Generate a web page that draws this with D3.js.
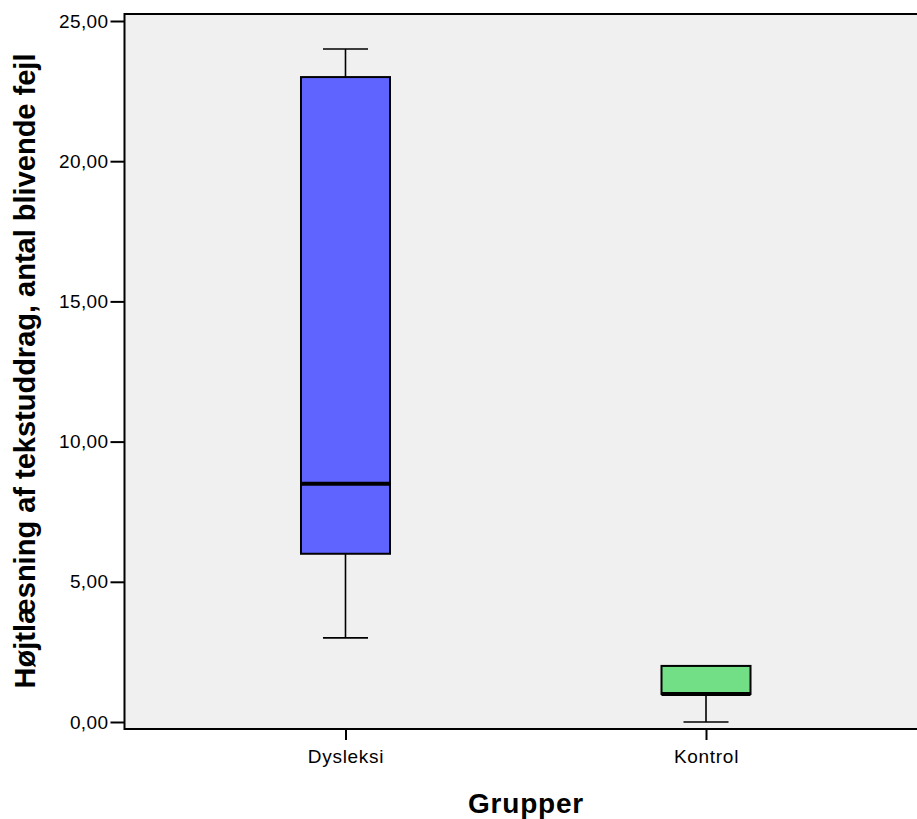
<!DOCTYPE html>
<html><head><meta charset="utf-8">
<script src="https://cdn.jsdelivr.net/npm/d3@7"></script>
<style>body{margin:0;background:#fff}svg{display:block}text{font-family:"Liberation Sans",Arial,sans-serif}</style>
</head><body><svg id="c" width="917" height="819"></svg>
<script>
const categories = ["Dysleksi", "Kontrol"];
const whiskerLow = [3, 0];
const q1 = [6, 1];
const median = [8.5, 1];
const q3 = [23, 2];
const whiskerHigh = [24, 2];
const colors = ["#5f63ff", "#72de86"];
const yTicks = [0, 5, 10, 15, 20, 25];
const yTitle = "Højtlæsning af tekstuddrag, antal blivende fejl";
const xTitle = "Grupper";

(function () {
const svg = d3.select("#c");
const pLeft = 124.5, pRight = 927, pTop = 14, pBottom = 729;
const y = d3.scaleLinear().domain([0, 25]).range([722, 21]);
const x = d3.scalePoint().domain(categories).range([pLeft, pRight]).padding(0.613);
const boxW = 89, capW = 45;

svg.append("rect").attr("x", pLeft).attr("y", pTop).attr("width", pRight - pLeft).attr("height", pBottom - pTop)
  .attr("fill", "#f0f0f0").attr("stroke", "#000").attr("stroke-width", 2);

const data = categories.map((c, i) => ({c, lo: whiskerLow[i], q1: q1[i], med: median[i], q3: q3[i], hi: whiskerHigh[i], col: colors[i]}));
const g = svg.selectAll("g.box").data(data).join("g").attr("class", "box");
g.filter(d => d.hi > d.q3).append("line").attr("x1", d => x(d.c)).attr("x2", d => x(d.c))
  .attr("y1", d => y(d.hi)).attr("y2", d => y(d.q3)).attr("stroke", "#000").attr("stroke-width", 1.6);
g.filter(d => d.hi > d.q3).append("line").attr("x1", d => x(d.c) - capW/2).attr("x2", d => x(d.c) + capW/2)
  .attr("y1", d => y(d.hi)).attr("y2", d => y(d.hi)).attr("stroke", "#000").attr("stroke-width", 1.6);
g.filter(d => d.lo < d.q1).append("line").attr("x1", d => x(d.c)).attr("x2", d => x(d.c))
  .attr("y1", d => y(d.q1)).attr("y2", d => y(d.lo)).attr("stroke", "#000").attr("stroke-width", 1.6);
g.filter(d => d.lo < d.q1).append("line").attr("x1", d => x(d.c) - capW/2).attr("x2", d => x(d.c) + capW/2)
  .attr("y1", d => y(d.lo)).attr("y2", d => y(d.lo)).attr("stroke", "#000").attr("stroke-width", 1.6);
g.append("rect").attr("x", d => x(d.c) - boxW/2).attr("width", boxW)
  .attr("y", d => y(d.q3)).attr("height", d => y(d.q1) - y(d.q3))
  .attr("fill", d => d.col).attr("stroke", "#000").attr("stroke-width", 2);
g.append("line").attr("x1", d => x(d.c) - boxW/2).attr("x2", d => x(d.c) + boxW/2)
  .attr("y1", d => y(d.med)).attr("y2", d => y(d.med)).attr("stroke", "#000").attr("stroke-width", 4);

const fmt = v => d3.format(".2f")(v).replace(".", ",");
const ya = svg.append("g").attr("transform", `translate(${pLeft},0)`)
  .call(d3.axisLeft(y).tickValues(yTicks).tickFormat(fmt).tickSize(14).tickPadding(2));
ya.select(".domain").remove();
ya.selectAll("line").attr("stroke", "#000").attr("stroke-width", 2);
ya.selectAll("text").attr("font-size", 19).attr("letter-spacing", 0.4).attr("fill", "#000")
  .attr("font-family", "Liberation Sans, Arial, sans-serif");

const xa = svg.append("g").attr("transform", `translate(0,${pBottom})`)
  .call(d3.axisBottom(x).tickSize(11).tickPadding(10));
xa.select(".domain").remove();
xa.selectAll("line").attr("stroke", "#000").attr("stroke-width", 2);
xa.selectAll("text").attr("font-size", 19).attr("letter-spacing", 0.7).attr("fill", "#000")
  .attr("font-family", "Liberation Sans, Arial, sans-serif");

svg.append("text").attr("x", 526).attr("y", 813).attr("text-anchor", "middle")
  .attr("font-size", 28).attr("letter-spacing", 0.8).attr("font-weight", "bold").text(xTitle);
svg.append("text").attr("transform", "translate(35,371) rotate(-90)").attr("text-anchor", "middle")
  .attr("font-size", 29).attr("font-weight", "bold").text(yTitle);
})();
</script></body></html>
